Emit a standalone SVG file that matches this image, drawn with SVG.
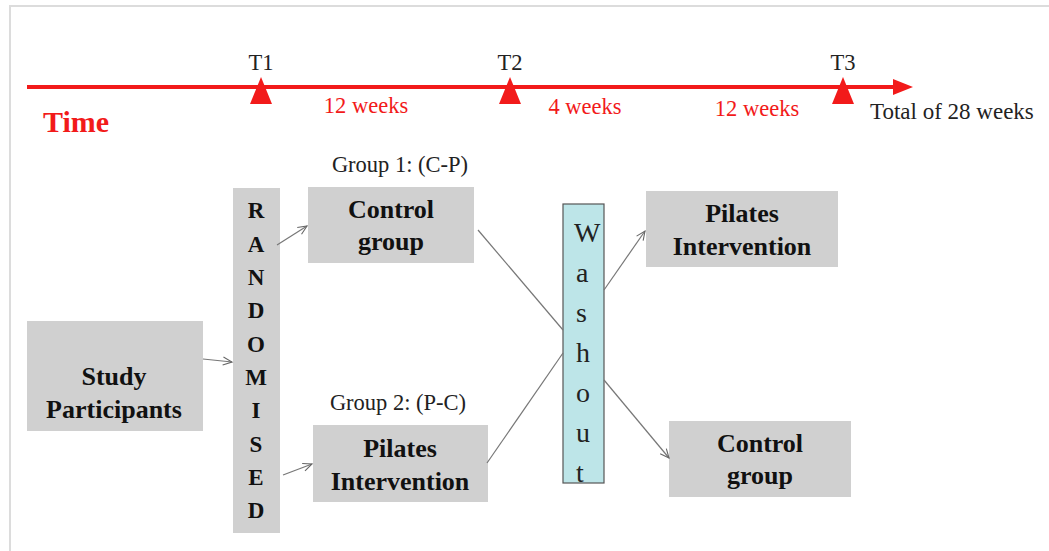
<svg xmlns="http://www.w3.org/2000/svg" width="1049" height="551" viewBox="0 0 1049 551">
<style>
text{font-family:"Liberation Serif","Times New Roman","DejaVu Serif",Times,serif}
.box{fill:#d0d0d0}
.bt{font-weight:bold;font-size:26px;fill:#111;text-anchor:middle}
.lbl{font-size:22.5px;fill:#222;text-anchor:middle}
.red{font-size:22.5px;fill:#f21a1a;text-anchor:middle}
.rl{font-weight:bold;font-size:23px;fill:#111;text-anchor:middle}
.wl{font-size:28px;fill:#222}
.conn{stroke:#777;stroke-width:1.2;fill:none}
</style>
<defs>
<marker id="ah" markerWidth="12" markerHeight="10" refX="10" refY="5" orient="auto" markerUnits="userSpaceOnUse">
<path d="M1,1 L10,5 L1,9" fill="none" stroke="#666" stroke-width="1.1"/>
</marker>
</defs>
<rect width="1049" height="551" fill="#fff"/>
<path d="M10,551 V6 H1049" fill="none" stroke="#dcdcdc" stroke-width="2"/>
<g id="timeline">
<line x1="27" y1="87" x2="900" y2="87" stroke="#f21a1a" stroke-width="4"/>
<polygon points="893,79 913,87 893,95" fill="#f21a1a"/>
<polygon points="261,77 250,104 272,104" fill="#f21a1a"/>
<polygon points="510,77 499,104 521,104" fill="#f21a1a"/>
<polygon points="843,77 832,104 854,104" fill="#f21a1a"/>
<text class="lbl" x="261" y="70">T1</text>
<text class="lbl" x="510" y="70">T2</text>
<text class="lbl" x="843" y="70">T3</text>
<text x="43" y="132" font-weight="bold" font-size="30" fill="#f21a1a">Time</text>
<text class="red" x="366" y="113">12 weeks</text>
<text class="red" x="585" y="114">4 weeks</text>
<text class="red" x="757" y="116">12 weeks</text>
<text x="870" y="119" font-size="23" fill="#222">Total of 28 weeks</text>
</g>
<g id="study">
<rect class="box" x="27" y="321" width="176" height="110"/>
<text class="bt" x="114" y="385">Study</text>
<text class="bt" x="114" y="418">Participants</text>
</g>
<g id="randomised">
<rect class="box" x="233" y="188" width="47" height="345"/>
<text class="rl" x="256" y="218">R</text>
<text class="rl" x="256" y="252">A</text>
<text class="rl" x="256" y="285">N</text>
<text class="rl" x="256" y="318">D</text>
<text class="rl" x="256" y="352">O</text>
<text class="rl" x="256" y="385">M</text>
<text class="rl" x="256" y="418">I</text>
<text class="rl" x="256" y="452">S</text>
<text class="rl" x="256" y="485">E</text>
<text class="rl" x="256" y="518">D</text>
</g>
<g id="group1-label"><text class="lbl" x="400" y="172">Group 1: (C-P)</text></g>
<g id="group2-label"><text class="lbl" x="398" y="410">Group 2: (P-C)</text></g>
<g id="control1">
<rect class="box" x="308" y="187" width="166" height="76"/>
<text class="bt" x="391" y="218">Control</text>
<text class="bt" x="391" y="250">group</text>
</g>
<g id="pilates1">
<rect class="box" x="313" y="425" width="175" height="77"/>
<text class="bt" x="400" y="457">Pilates</text>
<text class="bt" x="400" y="490">Intervention</text>
</g>
<g id="washout">
<rect x="563" y="204" width="41" height="279" fill="#bde5e8" stroke="#555" stroke-width="1.2"/>
<text class="wl" x="574" y="242">W</text>
<text class="wl" x="576" y="282">a</text>
<text class="wl" x="576" y="322">s</text>
<text class="wl" x="576" y="362">h</text>
<text class="wl" x="576" y="402">o</text>
<text class="wl" x="576" y="442">u</text>
<text class="wl" x="576" y="482">t</text>
</g>
<g id="pilates2">
<rect class="box" x="646" y="191" width="192" height="76"/>
<text class="bt" x="742" y="222">Pilates</text>
<text class="bt" x="742" y="255">Intervention</text>
</g>
<g id="control2">
<rect class="box" x="669" y="421" width="182" height="76"/>
<text class="bt" x="760" y="452">Control</text>
<text class="bt" x="760" y="484">group</text>
</g>
<g id="connectors">
<line class="conn" x1="203" y1="359" x2="232" y2="362" marker-end="url(#ah)"/>
<line class="conn" x1="277" y1="245" x2="307" y2="226" marker-end="url(#ah)"/>
<line class="conn" x1="283" y1="475" x2="312" y2="464" marker-end="url(#ah)"/>
<line class="conn" x1="478" y1="230" x2="563" y2="330"/>
<line class="conn" x1="487" y1="463" x2="563" y2="353"/>
<line class="conn" x1="604" y1="290" x2="645" y2="231" marker-end="url(#ah)"/>
<line class="conn" x1="604" y1="380" x2="669" y2="458" marker-end="url(#ah)"/>
</g>
</svg>
